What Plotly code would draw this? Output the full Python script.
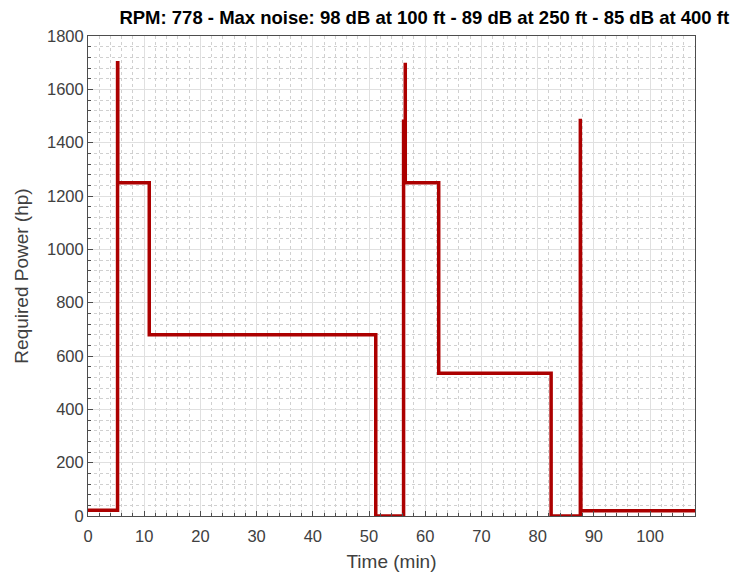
import plotly.graph_objects as go

time_min = [0, 5.26, 5.26, 5.3, 5.3, 10.9, 10.9, 51.2, 51.2, 56.15, 56.15, 56.45, 56.45, 56.45, 62.4, 62.4, 82.4, 82.4, 87.6, 87.6, 87.7, 87.7, 108]
power_hp = [22, 22, 1700, 1700, 1250, 1250, 680, 680, 0, 0, 1480, 1480, 1700, 1250, 1250, 535, 535, 0, 0, 1490, 1490, 20, 20]

title_text = "RPM: 778 - Max noise: 98 dB at 100 ft - 89 dB at 250 ft - 85 dB at 400 ft"
x_ticks = [0, 10, 20, 30, 40, 50, 60, 70, 80, 90, 100]
y_ticks = [0, 200, 400, 600, 800, 1000, 1200, 1400, 1600, 1800]

FONT = "Liberation Sans, Arial, sans-serif"

fig = go.Figure()
fig.add_trace(go.Scatter(x=time_min, y=power_hp, mode="lines",
                         line=dict(color="rgb(172,0,0)", width=3.5),
                         showlegend=False))

axis_common = dict(
    showline=True, linecolor="#4d4d4d", linewidth=1, mirror=True,
    ticks="inside", ticklen=5, tickcolor="#4d4d4d",
    showgrid=True, gridcolor="#e0e0e0", gridwidth=1,
    zeroline=False, automargin=False,
    tickfont=dict(family=FONT, size=16.5, color="#404040"),
)

fig.update_xaxes(range=[0, 108], tickvals=x_ticks, ticklabelstandoff=5,
                 title=dict(text="Time (min)", font=dict(family=FONT, size=19, color="#404040"), standoff=10),
                 minor=dict(dtick=2, showgrid=True, gridcolor="#d0d0d0", griddash="dot", ticks="inside", ticklen=3, tickcolor="#4d4d4d"),
                 **axis_common)
fig.update_yaxes(range=[0, 1800], tickvals=y_ticks,
                 title=dict(text="Required Power (hp)", font=dict(family=FONT, size=19, color="#404040"), standoff=13),
                 minor=dict(dtick=40, showgrid=True, gridcolor="#d0d0d0", griddash="dot", ticks="inside", ticklen=3, tickcolor="#4d4d4d"),
                 **axis_common)

fig.update_layout(
    width=734, height=575,
    margin=dict(l=88, r=39, t=36, b=59),
    paper_bgcolor="white", plot_bgcolor="white",
    title=dict(text="<b>" + title_text + "</b>", x=0.578, xanchor="center", y=0.97, yanchor="middle",
               font=dict(family=FONT, size=18.5, color="black")),
)

fig.write_html("out.html")
